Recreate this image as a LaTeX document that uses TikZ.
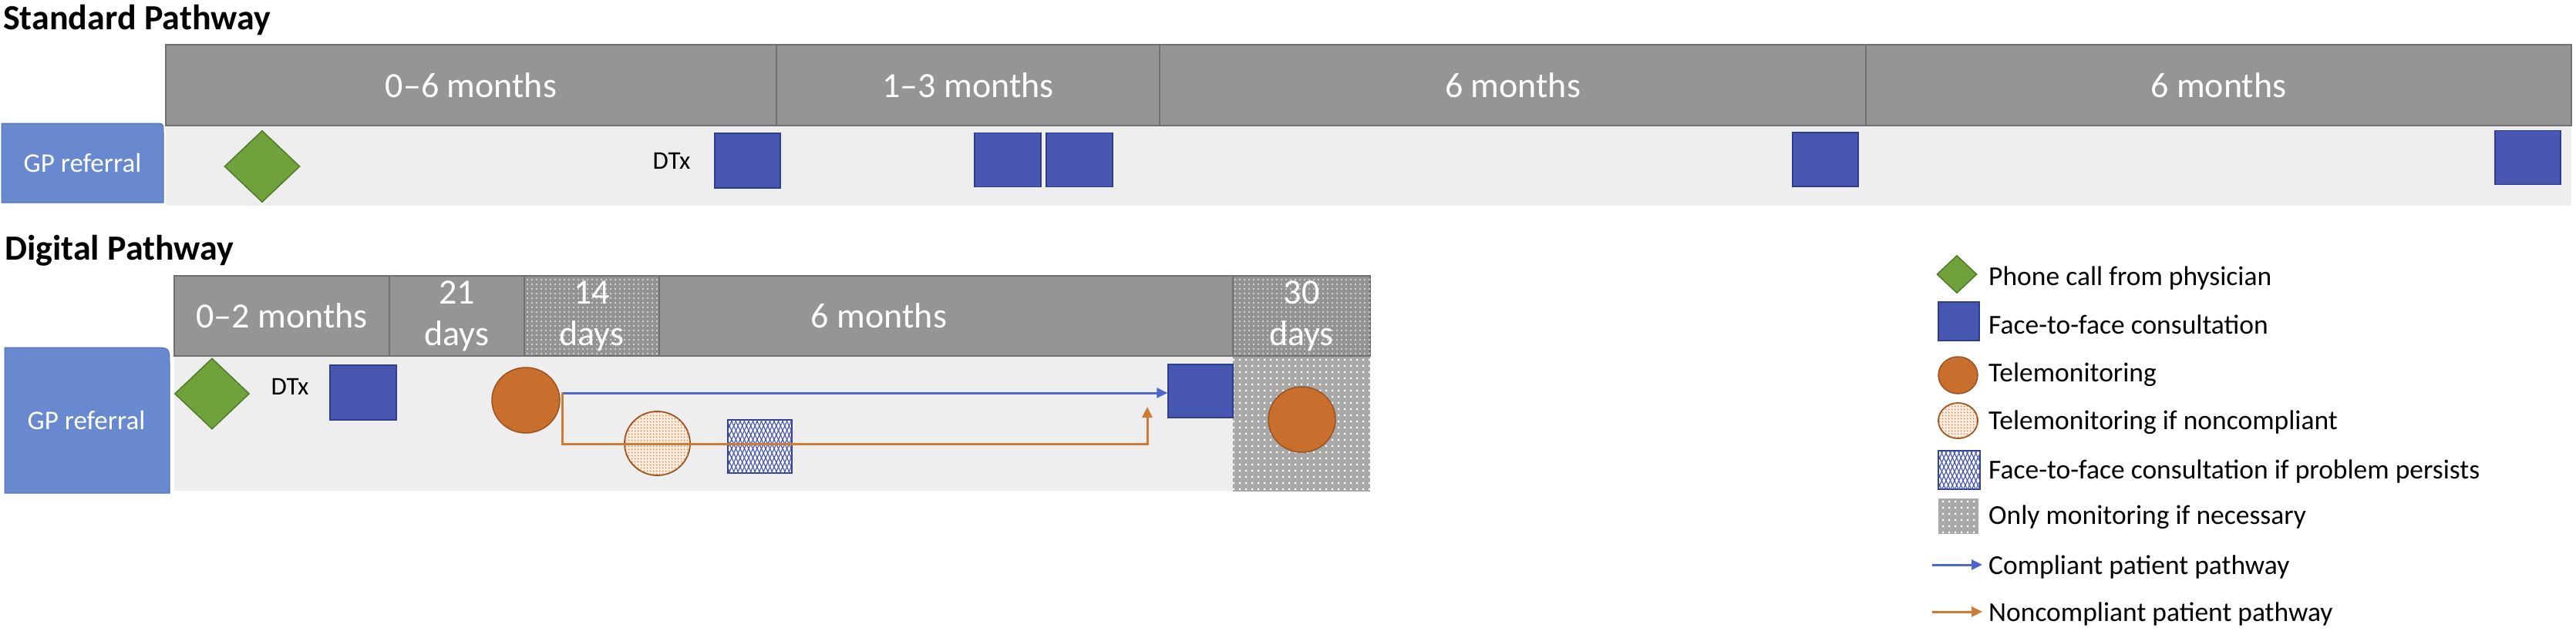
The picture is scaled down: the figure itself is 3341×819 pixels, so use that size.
\documentclass[tikz,border=0pt]{standalone}
\usepackage{fontspec}
\setmainfont{Carlito}
\usetikzlibrary{arrows.meta,patterns.meta,shapes.geometric}
\definecolor{bargrey}{HTML}{959595}
\definecolor{barline}{HTML}{707070}
\definecolor{dotdark}{HTML}{939393}
\definecolor{dotgrey}{HTML}{A8A8A8}
\definecolor{bandgrey}{HTML}{EEEEEE}
\definecolor{gpblue}{HTML}{6889CF}
\definecolor{gpline}{HTML}{4F6FB5}
\definecolor{phgreen}{HTML}{70A13B}
\definecolor{phline}{HTML}{517C29}
\definecolor{ftfblue}{HTML}{4757B2}
\definecolor{ftfline}{HTML}{2F3D8A}
\definecolor{teleor}{HTML}{C86F2E}
\definecolor{teleline}{HTML}{9C5220}
\definecolor{telelight}{HTML}{FBEBDD}
\definecolor{cblue}{HTML}{4C68CF}
\definecolor{norange}{HTML}{D07B35}
\begin{document}
\begin{tikzpicture}[x=1pt,y=-1pt,
  title/.style={font=\bfseries\fontsize{46}{54}\selectfont, inner sep=0pt, anchor=base west},
  barbox/.style={rectangle, draw=barline, line width=1.5pt, fill=bargrey, inner sep=0pt, text=white, font=\fontsize{46}{54}\selectfont, align=center},
  dotbar/.style={barbox, fill=dotdark, postaction={pattern={Dots[distance=6pt,radius=1.1pt]}, pattern color=white!80!gray}},
  bartext/.style={text=white, font=\fontsize{46}{54}\selectfont, inner sep=0pt},
  band/.style={rectangle, fill=bandgrey, draw=none, inner sep=0pt},
  ftf/.style={rectangle, fill=ftfblue, draw=ftfline, line width=1.5pt, inner sep=0pt},
  phone/.style={diamond, fill=phgreen, draw=phline, line width=1.5pt, inner sep=0pt},
  tele/.style={ellipse, fill=teleor, draw=teleline, line width=1.5pt, inner sep=0pt},
  teledot/.style={ellipse, fill=telelight, draw=teleline, line width=1.8pt, inner sep=0pt, postaction={pattern={Dots[distance=4pt,radius=1.2pt]}, pattern color=teleor!85!white}},
  ftfhatch/.style={rectangle, fill=white, draw=ftfline, line width=1.5pt, inner sep=0pt,
     postaction={pattern={Lines[angle=65,distance=5pt,line width=1.2pt]}, pattern color=ftfblue},
     postaction={pattern={Lines[angle=115,distance=5pt,line width=1.2pt]}, pattern color=ftfblue}},
  monit/.style={rectangle, fill=dotgrey, inner sep=0pt, postaction={pattern={Dots[distance=8pt,radius=1.5pt]}, pattern color=white}},
  gpshape/.style={fill=gpblue, draw=gpline, line width=1pt},
  gptext/.style={text=white, font=\fontsize{35}{42}\selectfont, inner sep=0pt},
  dtx/.style={font=\fontsize{33}{40}\selectfont, inner sep=0pt},
  legtext/.style={font=\fontsize{35.5}{42}\selectfont, inner sep=0pt, anchor=base west},
  carrow/.style={draw=cblue, line width=3pt, -{Triangle[length=14pt,width=13pt]}},
  narrow/.style={draw=norange, line width=3pt, -{Triangle[length=14pt,width=13pt]}}
]
\useasboundingbox (0,0) rectangle (3341,819);
\fill[white] (0,0) rectangle (3341,819);

% ---------------- Standard pathway ----------------
\node[title] (t1) at (4,38) {Standard Pathway};
\node[band, minimum width=3120pt, minimum height=104pt] (sband) at (1775,215) {};
\node[barbox, minimum width=792pt, minimum height=105pt] (sb1) at (611,110.5) {0–6 months};
\node[barbox, minimum width=497pt, minimum height=105pt] (sb2) at (1255.5,110.5) {1–3 months};
\node[barbox, minimum width=916pt, minimum height=105pt] (sb3) at (1962,110.5) {6 months};
\node[barbox, minimum width=915pt, minimum height=105pt] (sb4) at (2877.5,110.5) {6 months};
\path[gpshape] (2,263) -- (2,160) -- (200,160) .. controls (212,160) .. (212,172) -- (212,263) -- cycle;
\node[gptext] (gp1) at (107,211.5) {GP referral};
\node[phone, minimum width=98pt, minimum height=93pt] (sph) at (340,216) {};
\node[dtx] (sdtx) at (871,209) {DTx};
\node[ftf, minimum width=85pt, minimum height=71pt] (s1) at (969.5,208.5) {};
\node[ftf, minimum width=86pt, minimum height=70pt] (s2) at (1307,207.5) {};
\node[ftf, minimum width=86pt, minimum height=70pt] (s3) at (1400,207.5) {};
\node[ftf, minimum width=85pt, minimum height=70pt] (s4) at (2367.5,207) {};
\node[ftf, minimum width=85pt, minimum height=70pt] (s5) at (3278.5,204.5) {};

% ---------------- Digital pathway ----------------
\node[title] (t2) at (6,337) {Digital Pathway};
\node[band, minimum width=1373pt, minimum height=175pt] (dband) at (912.5,549.5) {};
\node[monit, minimum width=178pt, minimum height=176pt] (dcol) at (1688,550) {};
\node[barbox, minimum width=279pt, minimum height=104pt] (db1) at (365.5,410) {0–2 months};
\node[barbox, minimum width=175pt, minimum height=104pt] (db2) at (592.5,410) {21\\days};
\node[dotbar, minimum width=175pt, minimum height=104pt] (db3) at (767.5,410) {14\\days};
\node[barbox, minimum width=744pt, minimum height=104pt] (db4) at (1227,410) {};
\node[bartext] (db4t) at (1140,410) {6 months};
\node[dotbar, minimum width=178pt, minimum height=104pt] (db5) at (1688,410) {30\\days};
\path[gpshape] (6,640) -- (6,451) -- (198,451) .. controls (220,451) .. (220,473) -- (220,640) -- cycle;
\node[gptext] (gp2) at (112,545) {GP referral};
\node[phone, minimum width=97pt, minimum height=92pt] (dph) at (275,511) {};
\node[dtx] (ddtx) at (376,502) {DTx};
\node[ftf, minimum width=86pt, minimum height=71pt] (d1) at (471,509.5) {};
\node[tele, minimum width=88pt, minimum height=85pt] (tm1) at (682,519.5) {};
\node[teledot, minimum width=85pt, minimum height=83pt] (tmd) at (852.5,575.5) {};
\node[ftfhatch, minimum width=83pt, minimum height=69pt] (hs) at (985.5,579.5) {};
\node[ftf, minimum width=84pt, minimum height=69pt] (d5) at (1557,507.5) {};
\node[tele, minimum width=87pt, minimum height=85pt] (tm2) at (1688.5,544.5) {};

\coordinate (sp) at (729,510);
\coordinate (ocorner) at (1488,576);
\coordinate (oend) at (1488,528);
\draw[carrow] (sp) -- (sp -| d5.west);
\draw[narrow] (sp) |- (ocorner) -- (oend);

% ---------------- Legend ----------------
\node[phone, minimum width=52pt, minimum height=49pt] (lph) at (2538,356) {};
\node[legtext] (lt1) at (2579,370) {Phone call from physician};
\node[ftf, minimum width=53pt, minimum height=50pt] (lsq) at (2540.5,417) {};
\node[legtext] (lt2) at (2579,433) {Face-to-face consultation};
\node[tele, minimum width=51pt, minimum height=48pt] (lc) at (2539.5,487) {};
\node[legtext] (lt3) at (2579,495) {Telemonitoring};
\node[teledot, minimum width=51pt, minimum height=46pt] (lcd) at (2539.5,546) {};
\node[legtext] (lt4) at (2579,557) {Telemonitoring if noncompliant};
\node[ftfhatch, minimum width=54pt, minimum height=50pt] (lhs) at (2541,610) {};
\node[legtext] (lt5) at (2579,621) {Face-to-face consultation if problem persists};
\node[monit, minimum width=52pt, minimum height=46pt] (lgs) at (2540,670) {};
\node[legtext] (lt6) at (2579,680) {Only monitoring if necessary};
\coordinate (la1s) at (2506,733);
\coordinate (la1e) at (2571,733);
\draw[carrow] (la1s) -- (la1e);
\node[legtext] (lt7) at (2579,745) {Compliant patient pathway};
\coordinate (la2s) at (2506,794);
\coordinate (la2e) at (2571,794);
\draw[narrow] (la2s) -- (la2e);
\node[legtext] (lt8) at (2579,806) {Noncompliant patient pathway};
\end{tikzpicture}
\end{document}
